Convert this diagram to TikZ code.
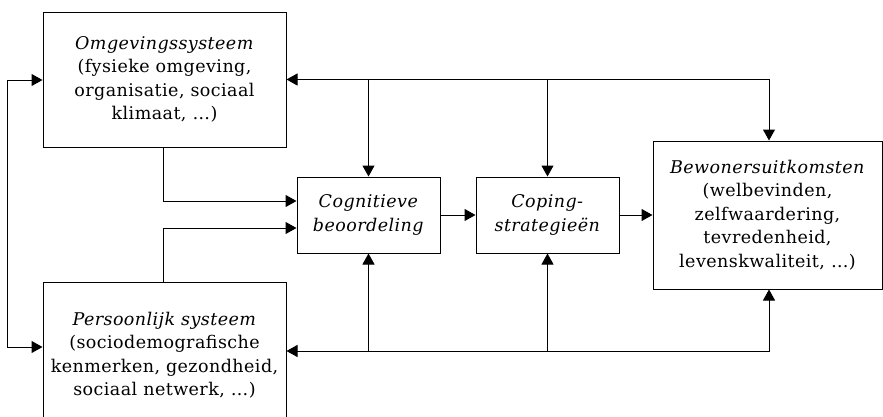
\documentclass[tikz,border=0pt]{standalone}
\usepackage{fontspec}
\setmainfont{DejaVu Serif}[LetterSpace=2.5]
\usetikzlibrary{arrows.meta}
\tikzset{
  box/.style={draw, line width=1pt, align=center, inner sep=0pt, font=\fontsize{17.5}{23.5}\selectfont},
  conn/.style={line width=1pt, -{Triangle[length=11pt,width=12pt]}},
  conn2/.style={line width=1pt, {Triangle[length=11pt,width=12pt]}-{Triangle[length=11pt,width=12pt]}}
}
\begin{document}
\begin{tikzpicture}[x=1pt,y=-1pt]
\useasboundingbox (0,0) rectangle (883,416);
\clip (0,0) rectangle (883,416);
\node[box, minimum width=243pt, minimum height=135pt] (omg) at (164.5,79.5)
  {\textit{Omgevingssysteem}\\(fysieke omgeving,\\organisatie, sociaal\\klimaat, …)};
\node[box, minimum width=243pt, minimum height=146pt] (pers) at (164.5,355)
  {\textit{Persoonlijk systeem}\\(sociodemografische\\kenmerken, gezondheid,\\sociaal netwerk, …)};
\node[box, minimum width=143pt, minimum height=76pt] (cog) at (368.5,215)
  {\textit{Cognitieve}\\\textit{beoordeling}};
\node[box, minimum width=143pt, minimum height=76pt] (cop) at (547.5,215)
  {\textit{Coping-}\\\textit{strategieën}};
\node[box, minimum width=229pt, minimum height=148pt] (bew) at (767.5,215)
  {\textit{Bewonersuitkomsten}\\(welbevinden,\\zelfwaardering,\\tevredenheid,\\levenskwaliteit, …)};
\coordinate (L1) at (7,80);
\coordinate (L2) at (7,347);
\coordinate (T) at (769,79.5);
\coordinate (B) at (769,351);
% left loop
\draw[conn2] (omg.west |- L1) -- (L1) -- (L2) -- (pers.west |- L2);
% top bus
\draw[conn2] (omg.east) -- (T) -- (T |- bew.north);
\draw[conn] (cog.north |- T) -- (cog.north);
\draw[conn] (cop.north |- T) -- (cop.north);
% bottom bus
\draw[conn2] (pers.east |- B) -- (B) -- (B |- bew.south);
\draw[conn] (cog.south |- B) -- (cog.south);
\draw[conn] (cop.south |- B) -- (cop.south);
% into cognitive appraisal
\draw[conn] ([xshift=-1.5pt]omg.south) |- ([yshift=14pt]cog.west);
\draw[conn] ([xshift=-1.5pt]pers.north) |- ([yshift=-13pt]cog.west);
% main chain
\draw[conn] (cog) -- (cop);
\draw[conn] (cop) -- (bew);
\end{tikzpicture}
\end{document}
